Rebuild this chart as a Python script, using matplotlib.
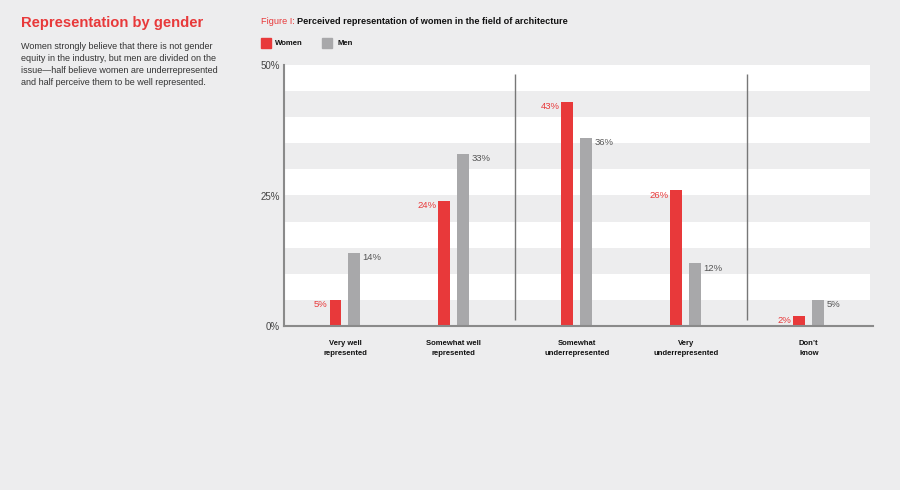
import numpy as np
import matplotlib
matplotlib.use("Agg")
import matplotlib.pyplot as plt

plt.rcParams["font.family"] = ["Liberation Sans", "DejaVu Sans"]

categories = ["Very well\nrepresented", "Somewhat well\nrepresented",
              "Somewhat\nunderrepresented", "Very\nunderrepresented", "Don\u2019t\nknow"]
women = [5, 24, 43, 26, 2]
men = [14, 33, 36, 12, 5]
sections = [0, 0, 1, 1, 2]  # groups split by vertical rules
yticks = [0, 25, 50]

RED = "#e8393a"
GREY = "#a8a8aa"
BG = "#ededee"

fig = plt.figure(figsize=(9, 4.9), dpi=100, facecolor=BG)

# left-hand text block
fig.text(21 / 900, 1 - 23 / 490, "Representation by gender", color=RED,
         fontsize=10.6, fontweight="bold", va="center", ha="left")
fig.text(21 / 900, 1 - 42 / 490,
         "Women strongly believe that there is not gender\n"
         "equity in the industry, but men are divided on the\n"
         "issue\u2014half believe women are underrepresented\n"
         "and half perceive them to be well represented.",
         color="#333333", fontsize=6.45, va="top", ha="left", linespacing=1.45)

# figure title
t1 = fig.text(261 / 900, 1 - 21 / 490, "Figure I: ", color=RED, fontsize=6.6,
              va="center", ha="left")
fig.canvas.draw()
bb = t1.get_window_extent()
fig.text(bb.x1 / 900, 1 - 21 / 490,
         "Perceived representation of women in the field of architecture",
         color="#111111", fontsize=6.6, fontweight="bold", va="center", ha="left")

# legend
fig.patches.append(plt.Rectangle((261 / 900, 1 - 48 / 490), 10 / 900, 10 / 490,
                                 transform=fig.transFigure, color=RED))
fig.text(275 / 900, 1 - 43.5 / 490, "Women", fontsize=5.6, fontweight="bold",
         va="center", ha="left", color="#111111")
fig.patches.append(plt.Rectangle((322 / 900, 1 - 48 / 490), 10 / 900, 10 / 490,
                                 transform=fig.transFigure, color=GREY))
fig.text(337 / 900, 1 - 43.5 / 490, "Men", fontsize=5.6, fontweight="bold",
         va="center", ha="left", color="#111111")

# chart axes
left, right, top, bottom = 284, 873, 65, 326
ax = fig.add_axes([left / 900, 1 - bottom / 490, (right - left) / 900, (bottom - top) / 490])
ax.set_facecolor("white")

x = np.arange(len(categories)) + 0.13 * np.array(sections)
ax.set_xlim(-0.56, 4.85)
ax.set_ylim(0, 50)

# alternating bands
xmax_frac = (870 - left) / (right - left)
for lo in range(0, 50, 10):
    ax.axhspan(lo, lo + 5, xmin=0.002, xmax=xmax_frac, color=BG, lw=0, zorder=0)
ax.axhspan(0, 50, xmin=xmax_frac, xmax=1, color=BG, lw=0, zorder=0)

w = 0.11
off = 0.087
ax.bar(x - off, women, width=w, color=RED, zorder=2)
ax.bar(x + off, men, width=w, color=GREY, zorder=2)

for xi, v in zip(x, women):
    ax.annotate(f"{v}%", (xi - off - w / 2, v), xytext=(-1.5, -3.5),
                textcoords="offset points", ha="right", va="center",
                color=RED, fontsize=6.8)
for xi, v in zip(x, men):
    ax.annotate(f"{v}%", (xi + off + w / 2, v), xytext=(1.5, -3.5),
                textcoords="offset points", ha="left", va="center",
                color="#555555", fontsize=6.8)

# section rules
for i in range(1, len(x)):
    if sections[i] != sections[i - 1]:
        ax.vlines((x[i] + x[i - 1]) / 2, 1.2, 48.3, color="#777777", lw=1, zorder=3)

ax.set_yticks(yticks)
ax.set_yticklabels([f"{t}%" for t in yticks], fontsize=7, color="#444444")
ax.tick_params(axis="y", length=0, pad=3)
ax.set_xticks(x)
ax.set_xticklabels(categories, fontsize=5.5, fontweight="bold", color="#111111",
                   linespacing=1.55)
ax.tick_params(axis="x", length=0, pad=10)

for s in ["top", "right"]:
    ax.spines[s].set_visible(False)
for s in ["left", "bottom"]:
    ax.spines[s].set_color("#8a8a8a")
    ax.spines[s].set_linewidth(1.5)

fig.savefig("out.png", dpi=100, facecolor=BG)
